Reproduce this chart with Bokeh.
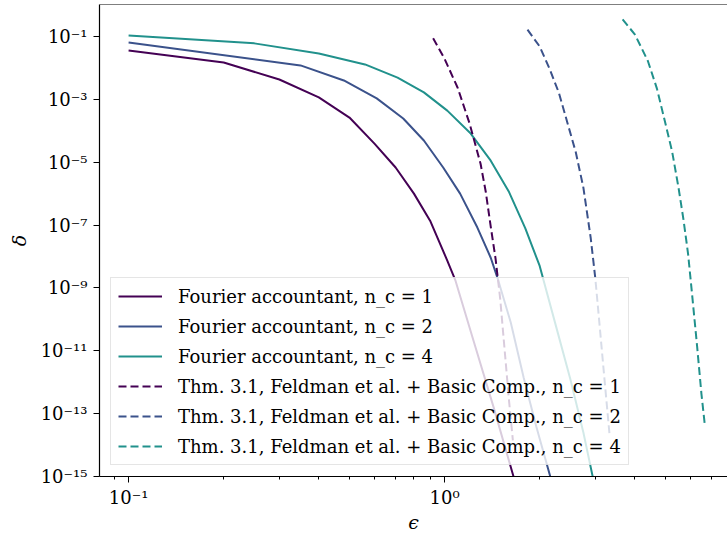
from bokeh.plotting import figure
from bokeh.models import FixedTicker, Legend, LegendItem, Span
from bokeh.embed import file_html
from bokeh.resources import INLINE

# ---- data ----
eps_fa1 = [0.1, 0.2, 0.3, 0.4, 0.5, 0.6, 0.7, 0.8, 0.9, 1.02, 1.083, 1.235, 1.43, 1.65, 1.7]
delta_fa1 = [3.55e-2, 1.48e-2, 4.27e-3, 1.15e-3, 2.63e-4, 3.89e-5, 6.76e-6, 1.0e-6, 1.38e-7,
             7.41e-9, 1.70e-9, 2.09e-11, 1.58e-13, 1.05e-15, 3.16e-16]

eps_fa2 = [0.1, 0.35, 0.48, 0.61, 0.74, 0.86, 0.99, 1.12, 1.27, 1.4, 1.48, 1.62, 1.78, 1.95, 2.16, 2.25]
delta_fa2 = [6.46e-2, 1.20e-2, 3.98e-3, 1.07e-3, 2.45e-4, 4.90e-5, 6.76e-6, 1.0e-6, 8.32e-8,
             9.12e-9, 1.70e-9, 7.94e-11, 1.38e-12, 3.98e-14, 1.0e-15, 2.0e-16]

eps_fa4 = [0.1, 0.25, 0.4, 0.56, 0.71, 0.86, 1.02, 1.21, 1.4, 1.6, 1.8, 2.0, 2.25, 2.5, 2.75, 3.0]
delta_fa4 = [1.07e-1, 6.03e-2, 2.88e-2, 1.29e-2, 4.90e-3, 1.66e-3, 4.37e-4, 8.13e-5, 1.12e-5,
             1.12e-6, 7.94e-8, 5.01e-9, 6.31e-11, 1.26e-12, 2.51e-14, 3.98e-16]

eps_thm1 = [0.92, 1.0, 1.1, 1.2, 1.3, 1.35, 1.4, 1.45, 1.5, 1.55, 1.6, 1.645]
delta_thm1 = [8.71e-2, 1.95e-2, 2.34e-3, 1.70e-4, 8.91e-6, 1.15e-6, 8.91e-8, 8.51e-9,
              4.47e-10, 1.0e-11, 2.51e-13, 1.41e-14]

eps_thm2 = [1.83, 2.0, 2.15, 2.3, 2.45, 2.6, 2.75, 2.9, 3.0, 3.1, 3.2, 3.33]
delta_thm2 = [1.66e-1, 4.79e-2, 9.33e-3, 1.62e-3, 1.74e-4, 2.14e-5, 1.55e-6, 3.98e-8,
              2.0e-9, 5.37e-11, 1.58e-12, 2.0e-14]

eps_thm4 = [3.66, 4.0, 4.4, 4.7, 5.0, 5.25, 5.5, 5.7, 5.9, 6.1, 6.3, 6.5, 6.67]
delta_thm4 = [3.47e-1, 1.17e-1, 1.66e-2, 2.19e-3, 1.70e-4, 2.19e-5, 1.55e-6, 1.55e-7,
              1.17e-8, 3.89e-10, 1.35e-11, 4.27e-13, 3.98e-14]

labels = [
    "Fourier accountant, n_c = 1",
    "Fourier accountant, n_c = 2",
    "Fourier accountant, n_c = 4",
    "Thm. 3.1, Feldman et al. + Basic Comp., n_c = 1",
    "Thm. 3.1, Feldman et al. + Basic Comp., n_c = 2",
    "Thm. 3.1, Feldman et al. + Basic Comp., n_c = 4",
]

y_ticks = [1e-1, 1e-3, 1e-5, 1e-7, 1e-9, 1e-11, 1e-13, 1e-15]
y_tick_labels = ["10⁻¹", "10⁻³", "10⁻⁵", "10⁻⁷", "10⁻⁹", "10⁻¹¹", "10⁻¹³", "10⁻¹⁵"]
x_ticks = [0.1, 1.0]
x_tick_labels = ["10⁻¹", "10⁰"]
x_minor = [0.09, 0.2, 0.3, 0.4, 0.5, 0.6, 0.7, 0.8, 0.9, 2, 3, 4, 5, 6, 7]

colors = ["#440154", "#3b528b", "#21918c"]
FONT = "DejaVu Serif"
Y_TOP = 1.04

# ---- figure ----
p = figure(width=727, height=536, x_axis_type="log", y_axis_type="log",
           x_range=(0.0809, 7.86), y_range=(1e-15, Y_TOP),
           output_backend="svg", toolbar_location=None,
           min_border_left=99, min_border_right=0, min_border_top=4, min_border_bottom=60)
p.outline_line_color = None
p.xgrid.visible = False
p.ygrid.visible = False
p.background_fill_color = "white"
p.border_fill_color = "white"

renderers = []
for xs, ys, c in [(eps_fa1, delta_fa1, colors[0]), (eps_fa2, delta_fa2, colors[1]), (eps_fa4, delta_fa4, colors[2])]:
    renderers.append(p.line(xs, ys, line_color=c, line_width=2))
for xs, ys, c in [(eps_thm1, delta_thm1, colors[0]), (eps_thm2, delta_thm2, colors[1]), (eps_thm4, delta_thm4, colors[2])]:
    renderers.append(p.line(xs, ys, line_color=c, line_width=2, line_dash="8 4"))

# top spine
p.add_layout(Span(location=Y_TOP, dimension="width", line_color="black", line_width=1.2))

# axes
p.yaxis.ticker = FixedTicker(ticks=y_ticks, minor_ticks=[])
p.yaxis.major_label_overrides = dict(zip(y_ticks, y_tick_labels))
p.xaxis.ticker = FixedTicker(ticks=x_ticks, minor_ticks=x_minor)
p.xaxis.major_label_overrides = dict(zip(x_ticks, x_tick_labels))

for ax in (p.xaxis[0], p.yaxis[0]):
    ax.axis_line_color = "black"
    ax.axis_line_width = 1.2
    ax.major_tick_line_color = "black"
    ax.minor_tick_line_color = "black"
    ax.major_tick_in = 0
    ax.major_tick_out = 6
    ax.minor_tick_in = 0
    ax.minor_tick_out = 3
    ax.major_label_text_font = FONT
    ax.major_label_text_font_size = "18px"
    ax.major_label_text_color = "black"
    ax.axis_label_text_font = FONT
    ax.axis_label_text_font_size = "19px"
    ax.axis_label_text_font_style = "italic"
    ax.axis_label_text_color = "black"

p.xaxis.major_label_standoff = 4
p.yaxis.major_label_standoff = 6
p.xaxis.axis_label = "ϵ"
p.yaxis.axis_label = "δ"
p.xaxis.axis_label_standoff = 0
p.yaxis.axis_label_standoff = 8

legend = Legend(items=[LegendItem(label=l, renderers=[r]) for l, r in zip(labels, renderers)],
                location="bottom_left")
legend.label_text_font = FONT
legend.label_text_font_size = "18px"
legend.label_text_color = "black"
legend.glyph_width = 44
legend.glyph_height = 22
legend.label_height = 22
legend.spacing = 8
legend.padding = 7
legend.margin = 11
legend.label_standoff = 16
legend.border_line_color = "#cccccc"
legend.border_line_width = 1
legend.background_fill_alpha = 0.8
p.add_layout(legend)

open("out.html", "w").write(file_html(p, INLINE))
